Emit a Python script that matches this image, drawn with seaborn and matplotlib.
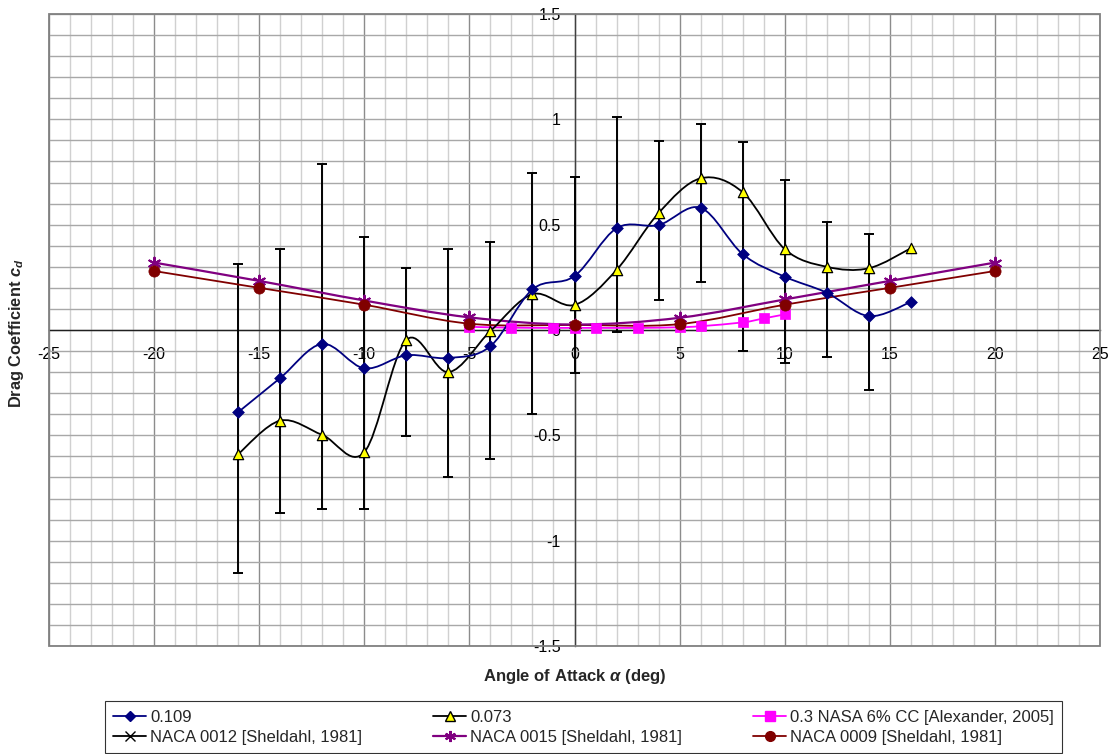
import numpy as np
import matplotlib
matplotlib.use("Agg")
import matplotlib.pyplot as plt
from matplotlib.path import Path
from matplotlib.patches import PathPatch, Rectangle
from matplotlib.lines import Line2D
import seaborn as sns

# ---------------- data ----------------
aoa_exp = [-16, -14, -12, -10, -8, -6, -4, -2, 0, 2, 4, 6, 8, 10, 12, 14, 16]
cd_0109 = [-0.39, -0.228, -0.066, -0.182, -0.12, -0.133, -0.077, 0.193, 0.256,
           0.483, 0.498, 0.58, 0.36, 0.253, 0.177, 0.066, 0.133]
cd_0073 = [-0.589, -0.43, -0.498, -0.58, -0.047, -0.2, -0.005, 0.17, 0.119,
           0.285, 0.555, 0.72, 0.654, 0.384, 0.30, 0.293, 0.388]

err_x = [-16, -14, -12, -10, -8, -6, -4, -2, 0, 2, 4, 6, 8, 10, 12, 14]
err_upper = [0.313, 0.384, 0.79, 0.44, 0.294, 0.384, 0.418, 0.745, 0.726, 1.01,
             0.897, 0.978, 0.892, 0.712, 0.513, 0.455]
err_lower = [-1.153, -0.869, -0.85, -0.85, -0.503, -0.697, -0.612, -0.40, -0.204,
             -0.01, 0.142, 0.228, -0.10, -0.157, -0.128, -0.285]

nasa_x = [-5, -3, -1, 0, 1, 3, 5, 6, 8, 9, 10]
nasa_cd = [0.015, 0.011, 0.010, 0.010, 0.010, 0.010, 0.013, 0.018, 0.036, 0.055, 0.074]

naca_x = [-20, -15, -10, -5, 0, 5, 10, 15, 20]
naca0015_cd = [0.32, 0.233, 0.14, 0.06, 0.026, 0.058, 0.145, 0.233, 0.32]
naca0009_cd = [0.28, 0.20, 0.12, 0.03, 0.024, 0.028, 0.12, 0.20, 0.28]
naca0012_x = []
naca0012_cd = []

x_ticks = [-25, -20, -15, -10, -5, 0, 5, 10, 15, 20, 25]
y_ticks = [-1.5, -1, -0.5, 0, 0.5, 1, 1.5]
y_tick_labels = ["-1.5", "-1", "-0.5", "0", "0.5", "1", "1.5"]

labels = ["0.109", "0.073", "0.3 NASA 6% CC [Alexander, 2005]",
          "NACA 0012 [Sheldahl, 1981]", "NACA 0015 [Sheldahl, 1981]",
          "NACA 0009 [Sheldahl, 1981]"]

# ---------------- style ----------------
sns.set_style("white")
plt.rcParams["font.family"] = ["Liberation Sans", "DejaVu Sans"]
plt.rcParams["mathtext.fontset"] = "custom"
plt.rcParams["mathtext.rm"] = "Liberation Sans:bold"
plt.rcParams["mathtext.it"] = "Liberation Sans:italic:bold"
plt.rcParams["mathtext.bf"] = "Liberation Sans:bold"

fig = plt.figure(figsize=(11.15, 7.54), dpi=100)
ax = fig.add_axes([49 / 1115, 1 - 646 / 754, 1051 / 1115, 632 / 754])


def smooth_path(x, y):
    pts = np.column_stack([np.asarray(x, float), np.asarray(y, float)])
    n = len(pts)
    verts = [pts[0]]
    codes = [Path.MOVETO]
    for i in range(n - 1):
        p0 = pts[i - 1] if i > 0 else pts[i]
        p1 = pts[i]
        p2 = pts[i + 1]
        p3 = pts[i + 2] if i + 2 < n else pts[i + 1]
        c1 = p1 + (p2 - p0) / 6.0
        c2 = p2 - (p3 - p1) / 6.0
        verts += [c1, c2, p2]
        codes += [Path.CURVE4] * 3
    return Path(verts, codes)


def add_curve(x, y, color, lw=1.3, z=3):
    if len(x) < 2:
        return
    ax.add_patch(PathPatch(smooth_path(x, y), fill=False, edgecolor=color,
                           lw=lw, zorder=z, capstyle="round", joinstyle="round"))


ax.set_xlim(-25, 25)
ax.set_ylim(-1.5, 1.5)

# grid
ax.set_axisbelow(True)
ax.set_xticks(x_ticks)
ax.set_xticklabels([str(v) for v in x_ticks])
ax.set_xticks(np.arange(-25, 26, 1), minor=True)
ax.set_yticks(y_ticks)
ax.set_yticklabels(y_tick_labels)
ax.set_yticks(np.round(np.arange(-1.5, 1.501, 0.1), 2), minor=True)
ax.grid(which="minor", axis="x", color="#d0d0d0", lw=1.0)
ax.grid(which="major", axis="x", color="#8c8c8c", lw=1.0)
ax.grid(which="both", axis="y", color="#a8a8a8", lw=1.0)

# spines through the origin
for s in ["top", "right"]:
    ax.spines[s].set_visible(False)
ax.spines["left"].set_position(("data", 0))
ax.spines["bottom"].set_position(("data", 0))
ax.spines["left"].set_color("#404040")
ax.spines["bottom"].set_color("#202020")
ax.spines["left"].set_linewidth(1.0)
ax.spines["bottom"].set_linewidth(1.0)
ax.add_patch(Rectangle((0, 0), 1, 1, transform=ax.transAxes, fill=False,
                       edgecolor="#808080", lw=1.3, zorder=2.6, clip_on=False))

ax.tick_params(which="minor", length=0)
ax.tick_params(axis="x", which="major", direction="out", length=4, width=1,
               pad=8, labelsize=11.5, colors="black")
ax.tick_params(axis="y", which="major", direction="out", length=4, width=1,
               pad=6, labelsize=11.5, colors="black")

# error bars (centred on the 0.109 series)
cd_err_center = np.array(cd_0109[:len(err_x)])
ax.errorbar(err_x, cd_err_center,
            yerr=[cd_err_center - np.array(err_lower), np.array(err_upper) - cd_err_center],
            fmt="none", ecolor="black", elinewidth=1.4, capsize=3.3, capthick=1.4, zorder=3)

# smooth lines
add_curve(naca_x, naca0009_cd, "#800000", lw=1.3, z=3.1)
add_curve(naca_x, naca0015_cd, "#800080", lw=1.6, z=3.2)
add_curve(nasa_x, nasa_cd, "#ff00ff", lw=1.3, z=3.3)
add_curve(aoa_exp, cd_0073, "black", lw=1.3, z=3.4)
add_curve(aoa_exp, cd_0109, "#000080", lw=1.3, z=3.5)

# markers
sns.scatterplot(x=naca_x, y=naca0015_cd, marker=(6, 2, 0), s=70, color="#800080",
                edgecolor="#800080", linewidth=1.5, zorder=4, ax=ax, legend=False)
sns.scatterplot(x=nasa_x, y=nasa_cd, marker="s", s=55, color="#ff00ff",
                edgecolor="#ff00ff", linewidth=0.5, zorder=4.1, ax=ax, legend=False)
sns.scatterplot(x=naca_x, y=naca0009_cd, marker="o", s=65, color="#800000",
                edgecolor="#800000", linewidth=0.5, zorder=4.2, ax=ax, legend=False)
sns.scatterplot(x=aoa_exp, y=cd_0073, marker="^", s=55, color="#ffff00",
                edgecolor="black", linewidth=0.9, zorder=4.3, ax=ax, legend=False)
sns.scatterplot(x=aoa_exp, y=cd_0109, marker="D", s=36, color="#000080",
                edgecolor="#000080", linewidth=0.5, zorder=4.4, ax=ax, legend=False)
if len(naca0012_x):
    sns.scatterplot(x=naca0012_x, y=naca0012_cd, marker="x", s=40, color="black",
                    zorder=4, ax=ax, legend=False)

ax.set_xlabel("")
ax.set_ylabel("")

fig.text(574.5 / 1115, 1 - 676 / 754, r"Angle of Attack $\alpha$ (deg)",
         ha="center", va="center", fontsize=12, fontweight="bold")
fig.text(17 / 1115, 1 - 333 / 754, r"Drag Coefficient $c_d$", rotation=90,
         ha="center", va="center", fontsize=11.8, fontweight="bold")

# legend
h_0109 = Line2D([], [], color="#000080", marker="D", ms=5.5, mfc="#000080", mec="#000080", lw=1.3)
h_0073 = Line2D([], [], color="black", marker="^", ms=7, mfc="#ffff00", mec="black", lw=1.3)
h_nasa = Line2D([], [], color="#ff00ff", marker="s", ms=6.5, mfc="#ff00ff", mec="#ff00ff", lw=1.3)
h_0012 = Line2D([], [], color="black", marker="x", ms=7, mec="black", lw=1.3)
h_0015 = Line2D([], [], color="#800080", marker=(6, 2, 0), ms=8, mec="#800080", mew=1.5, lw=1.6)
h_0009 = Line2D([], [], color="#800000", marker="o", ms=7, mfc="#800000", mec="#800000", lw=1.3)
handles = [h_0109, h_0012, h_0073, h_0015, h_nasa, h_0009]
leg_labels = [labels[0], labels[3], labels[1], labels[4], labels[2], labels[5]]
leg = fig.legend(handles, leg_labels, ncol=3, mode="expand",
                 bbox_to_anchor=(105 / 1115, 1 - 753 / 754, 957 / 1115, 52 / 754),
                 loc="lower left", fontsize=12, frameon=True, fancybox=False,
                 edgecolor="black", handlelength=1.95, handletextpad=0.25,
                 borderpad=0.5, labelspacing=0.3, borderaxespad=0)
leg.get_frame().set_linewidth(0.8)

fig.savefig("out.png", dpi=100)
